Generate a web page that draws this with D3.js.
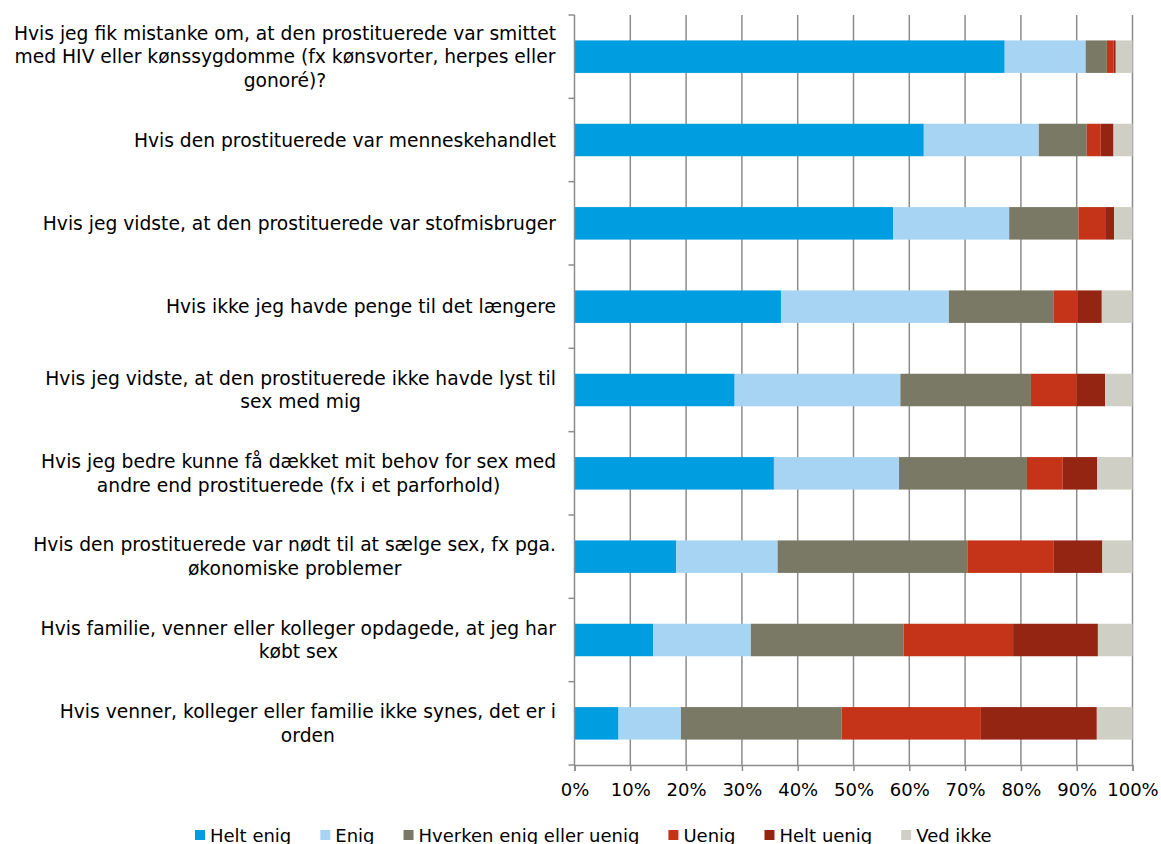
<!DOCTYPE html>
<html>
<head>
<meta charset="utf-8">
<script src="https://cdn.jsdelivr.net/npm/d3@7"></script>
<style>
  body { margin: 0; background: #fff; }
  svg text { font-family: "DejaVu Sans", Verdana, sans-serif; fill: #000; }
</style>
</head>
<body>
<div id="chart"></div>
<script>
// categories, top to bottom, each one split into its wrapped lines
var categories = [
  ["Hvis jeg fik mistanke om, at den prostituerede var smittet", "med HIV eller kønssygdomme (fx kønsvorter, herpes eller", "gonoré)?"],
  ["Hvis den prostituerede var menneskehandlet"],
  ["Hvis jeg vidste, at den prostituerede var stofmisbruger"],
  ["Hvis ikke jeg havde penge til det længere"],
  ["Hvis jeg vidste, at den prostituerede ikke havde lyst til", "sex med mig"],
  ["Hvis jeg bedre kunne få dækket mit behov for sex med", "andre end prostituerede (fx i et parforhold)"],
  ["Hvis den prostituerede var nødt til at sælge sex, fx pga.", "økonomiske problemer"],
  ["Hvis familie, venner eller kolleger opdagede, at jeg har", "købt sex"],
  ["Hvis venner, kolleger eller familie ikke synes, det er i", "orden"]
];

var seriesNames = ["Helt enig", "Enig", "Hverken enig eller uenig", "Uenig", "Helt uenig", "Ved ikke"];
var seriesColors = ["#009ee0", "#a8d4f4", "#7a7966", "#c53418", "#952513", "#cfcfc6"];

// percentages per series, in category order
var heltEnig   = [77.1, 62.6, 57.1, 37.0, 28.7, 35.7, 18.2, 14.1, 7.9];
var enig       = [14.5, 20.6, 20.8, 30.1, 29.7, 22.4, 18.2, 17.5, 11.2];
var hverken    = [3.8, 8.6, 12.4, 18.8, 23.4, 22.9, 34.0, 27.4, 28.8];
var uenig      = [1.2, 2.5, 4.8, 4.2, 8.2, 6.4, 15.5, 19.6, 25.0];
var heltUenig  = [0.4, 2.3, 1.6, 4.4, 5.1, 6.2, 8.7, 15.2, 20.8];
var vedIkke    = [3.0, 3.4, 3.3, 5.5, 4.9, 6.3, 5.4, 6.2, 6.4];

var xTicks = [0, 10, 20, 30, 40, 50, 60, 70, 80, 90, 100];

var width = 1161, height = 844;
var plotLeft = 574.5, plotRight = 1132.5, plotTop = 15, plotBottom = 765;
var fontSize = "18px";

var svg = d3.select("#chart").append("svg")
  .attr("width", width)
  .attr("height", height);

var allSeries = [heltEnig, enig, hverken, uenig, heltUenig, vedIkke];
var rows = categories.map(function(c, i) {
  var r = { idx: i };
  seriesNames.forEach(function(s, j) { r[s] = allSeries[j][i]; });
  return r;
});

var stacked = d3.stack().keys(seriesNames)
  .offset(d3.stackOffsetExpand)(rows);

var x = d3.scaleLinear().domain([0, 1]).range([plotLeft, plotRight]);
var y = d3.scaleBand()
  .domain(d3.range(categories.length))
  .range([plotTop, plotBottom])
  .paddingInner(0.61)
  .paddingOuter(0.305);

var gridColor = "#8c8c8c";

// vertical gridlines
svg.append("g").selectAll("line")
  .data(xTicks.slice(1))
  .enter().append("line")
  .attr("x1", function(d) { return x(d / 100); })
  .attr("x2", function(d) { return x(d / 100); })
  .attr("y1", plotTop)
  .attr("y2", plotBottom)
  .attr("stroke", gridColor)
  .attr("stroke-width", 1.5);

// bars
svg.append("g").selectAll("g")
  .data(stacked)
  .enter().append("g")
  .attr("fill", function(d, i) { return seriesColors[i]; })
  .selectAll("rect")
  .data(function(d) { return d; })
  .enter().append("rect")
  .attr("x", function(d) { return x(d[0]); })
  .attr("width", function(d) { return x(d[1]) - x(d[0]); })
  .attr("y", function(d) { return y(d.data.idx); })
  .attr("height", y.bandwidth());

// bottom axis
var xAxis = d3.axisBottom(x)
  .tickValues(xTicks.map(function(d) { return d / 100; }))
  .tickFormat(function(d) { return Math.round(d * 100) + "%"; })
  .tickSize(6)
  .tickPadding(12);

var gx = svg.append("g")
  .attr("transform", "translate(0," + plotBottom + ")")
  .call(xAxis);
gx.select(".domain").attr("stroke", gridColor).attr("stroke-width", 1.5);
gx.selectAll(".tick line").attr("stroke", gridColor).attr("stroke-width", 1.5);
gx.selectAll("text").style("font-size", fontSize).attr("fill", "#000")
  .style("font-family", "'DejaVu Sans', Verdana, sans-serif");

// left axis: line with ticks at the category boundaries
svg.append("line")
  .attr("x1", plotLeft).attr("x2", plotLeft)
  .attr("y1", plotTop).attr("y2", plotBottom)
  .attr("stroke", gridColor).attr("stroke-width", 1.5);

svg.append("g").selectAll("line")
  .data(d3.range(categories.length + 1))
  .enter().append("line")
  .attr("x1", plotLeft - 6)
  .attr("x2", plotLeft)
  .attr("y1", function(i) { return plotTop + i * y.step(); })
  .attr("y2", function(i) { return plotTop + i * y.step(); })
  .attr("stroke", gridColor)
  .attr("stroke-width", 1.5);

// category labels: centred block, right edge next to the axis
var labelRight = 556, lineH = 23.5;
var labels = svg.append("g").selectAll("text")
  .data(categories)
  .enter().append("text")
  .style("font-size", "18.7px")
  .attr("text-anchor", "middle");

labels.each(function(lines, i) {
  var t = d3.select(this);
  var cy = y(i) + y.bandwidth() / 2;
  var spans = t.selectAll("tspan")
    .data(lines)
    .enter().append("tspan")
    .attr("y", function(d, k) { return cy + (k - (lines.length - 1) / 2) * lineH; })
    .attr("dy", "0.35em")
    .text(function(d) { return d; });
  var w = 0;
  spans.each(function() { w = Math.max(w, this.getComputedTextLength()); });
  spans.attr("x", labelRight - w / 2);
});

// legend
var legend = svg.append("g");
var lx = 195, ly = 830;
seriesNames.forEach(function(name, i) {
  legend.append("rect")
    .attr("x", lx).attr("y", ly)
    .attr("width", 10).attr("height", 10)
    .attr("fill", seriesColors[i]);
  var t = legend.append("text")
    .attr("x", lx + 15)
    .attr("y", ly + 12)
    .style("font-size", fontSize)
    .text(name);
  lx += 15 + t.node().getComputedTextLength() + 29;
});
</script>
</body>
</html>
